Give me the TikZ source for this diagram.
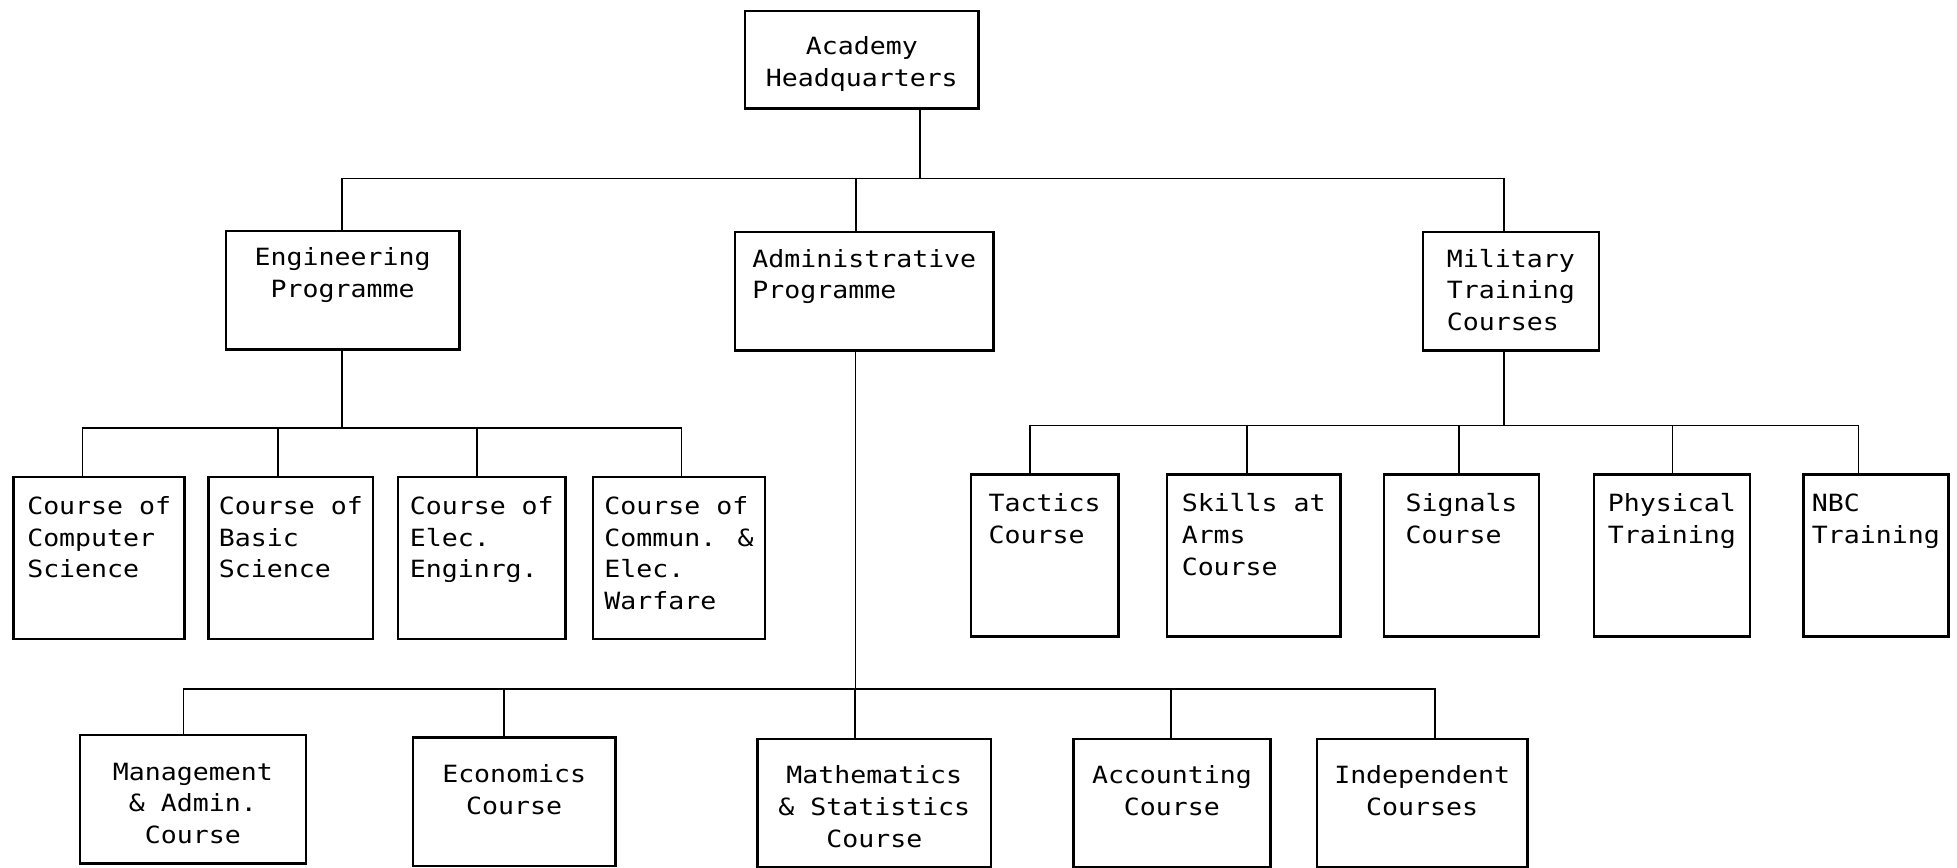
\documentclass[tikz,border=0pt]{standalone}
\usepackage{fontspec}
\newfontfamily\typer[FakeStretch=1.12]{DejaVu Sans Mono}
\newcommand\stackrows[2][l]{\begin{tabular}[t]{@{}#1@{}}#2\end{tabular}}
\tikzset{
  orgbox/.style={draw, line width=2pt, anchor=north west, inner sep=0pt,
    minimum width=#1, font=\typer\fontsize{19pt}{25.5pt}\selectfont},
  prog/.style={text height=28pt, text depth=67pt},
  course/.style={text height=30pt, text depth=100pt},
  study/.style={text height=36pt, text depth=67pt},
  link/.style={line width=1.4pt}
}
\begin{document}
\begin{tikzpicture}[x=1pt, y=-1pt]
    \useasboundingbox (0,0) rectangle (1568,695);
    \node[orgbox=187pt, text height=35pt, text depth=43pt] (hq) at (596,8) {\stackrows[c]{Academy\\Headquarters}};
    \node[orgbox=187pt, prog] (eng) at (180,184) {\stackrows[c]{Engineering\\Programme}};
    \node[orgbox=207pt, prog] (admin) at (588,185) {\stackrows{Administrative\\Programme}};
    \node[orgbox=141pt, prog] (mil) at (1139,185) {\stackrows{Military\\Training\\Courses}};
    \node[orgbox=137pt, course] (cs) at (10,381) {\stackrows{Course of\\Computer\\Science}};
    \node[orgbox=132pt, course] (bs) at (166,381) {\stackrows{Course of\\Basic\\Science}};
    \node[orgbox=134pt, course] (ee) at (318,381) {\stackrows{Course of\\Elec.\\Enginrg.}};
    \node[orgbox=138pt, course] (cew) at (474,381) {\stackrows{Course of\\Commun. \&\\Elec.\\Warfare}};
    \node[orgbox=118pt, course] (tac) at (777,379) {\stackrows{Tactics\\Course}};
    \node[orgbox=139pt, course] (ska) at (934,379) {\stackrows{Skills at\\Arms\\Course}};
    \node[orgbox=124pt, course] (sig) at (1108,379) {\stackrows{Signals\\Course}};
    \node[orgbox=125pt, course] (phy) at (1276,379) {\stackrows{Physical\\Training}};
    \node[orgbox=116pt, course] (nbc) at (1444,379) {\stackrows{NBC\\Training}};
    \node[orgbox=181pt, study] (mgt) at (63,588) {\stackrows[c]{Management\\\& Admin.\\Course}};
    \node[orgbox=162pt, study] (eco) at (330,590) {\stackrows[c]{Economics\\Course}};
    \node[orgbox=187pt, study] (mat) at (606,591) {\stackrows[c]{Mathematics\\\& Statistics\\Course}};
    \node[orgbox=158pt, study] (acc) at (859,591) {\stackrows[c]{Accounting\\Course}};
    \node[orgbox=169pt, study] (ind) at (1054,591) {\stackrows[c]{Independent\\Courses}};
    \foreach \n/\d in {eng/-0.5, admin/-6.5, mil/-5.5}
        \draw[link] ([xshift=46.5pt]hq.south) -- ++(0,55) -| ([xshift=\d pt]\n.north);
    \foreach \n/\d in {cs/-13.5, bs/-10, ee/-4, cew/2}
        \draw[link] ([xshift=-0.5pt]eng.south) -- ++(0,62) -| ([xshift=\d pt]\n.north);
    \foreach \n/\d in {tac/-12, ska/-5.5, sig/-2, phy/0.5, nbc/-14}
        \draw[link] ([xshift=-5.5pt]mil.south) -- ++(0,59) -| ([xshift=\d pt]\n.north);
    \foreach \n/\d in {mgt/-7.5, eco/-8, mat/-15.5, acc/-1, ind/10.5}
        \draw[link] ([xshift=-7pt]admin.south) -- ++(0,270) -| ([xshift=\d pt]\n.north);
\end{tikzpicture}
\end{document}
